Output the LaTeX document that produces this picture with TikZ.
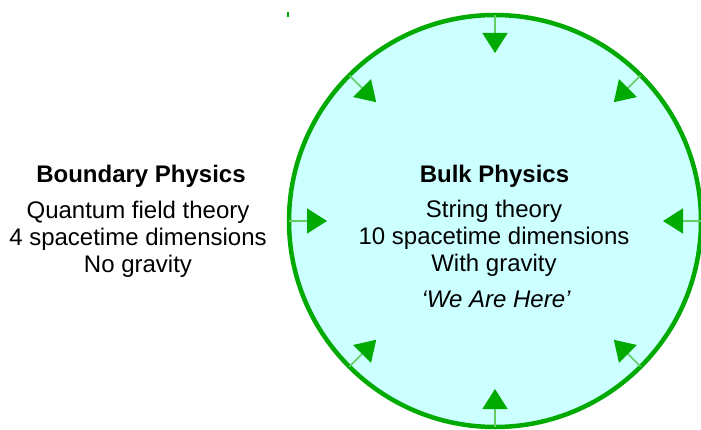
\documentclass[tikz,border=0pt]{standalone}
\usepackage{fontspec}
\setmainfont{Liberation Sans}
\usetikzlibrary{calc, arrows.meta}

\definecolor{bulkfill}{RGB}{204,255,255}
\definecolor{bulkgreen}{RGB}{0,170,0}
\definecolor{stemgreen}{RGB}{100,205,100}

\tikzset{
  textline/.style={anchor=base, inner sep=0pt, font=\fontsize{24}{27}\selectfont},
  titleline/.style={textline, font=\fontsize{24}{27}\selectfont\bfseries},
  inarrow/.style={draw=stemgreen, line width=1.5pt,
    -{Triangle[length=20pt, width=25pt, color=bulkgreen]}}
}

\begin{document}
\begin{tikzpicture}[x=1pt,y=1pt]
\def\bulkradius{206}
\useasboundingbox (0,0) rectangle (701,429);

\coordinate (centre) at (495,208);

% the bulk
\draw[bulkgreen, line width=4.5pt, fill=bulkfill] (centre) circle (\bulkradius);

% arrows pointing in from the boundary
\foreach \angle in {0,45,...,315} {
  \coordinate (rim\angle) at ($(centre)+(\angle:\bulkradius)$);
  \coordinate (tip\angle) at ($(centre)+(\angle:\bulkradius-38)$);
  \draw[inarrow] (rim\angle) -- (tip\angle);
}

\fill[bulkgreen] (287.3,412) rectangle (288.8,416.5);

% boundary text
\node[titleline] (bndtitle) at (141,246) {Boundary Physics};
\node[textline] (bndone) at (138,211) {Quantum field theory};
\node[textline] (bndtwo) at (138,184) {4 spacetime dimensions};
\node[textline] (bndthree) at (138,157) {No gravity};

% bulk text
\node[titleline] (bulktitle) at (494.5,246) {Bulk Physics};
\node[textline] (bulkone) at (494,212) {String theory};
\node[textline] (bulktwo) at (494,185) {10 spacetime dimensions};
\node[textline] (bulkthree) at (494,158) {With gravity};
\node[textline, font=\fontsize{24}{27}\selectfont\itshape] (bulkhere) at (496,122) {`We Are Here'};
\end{tikzpicture}
\end{document}
